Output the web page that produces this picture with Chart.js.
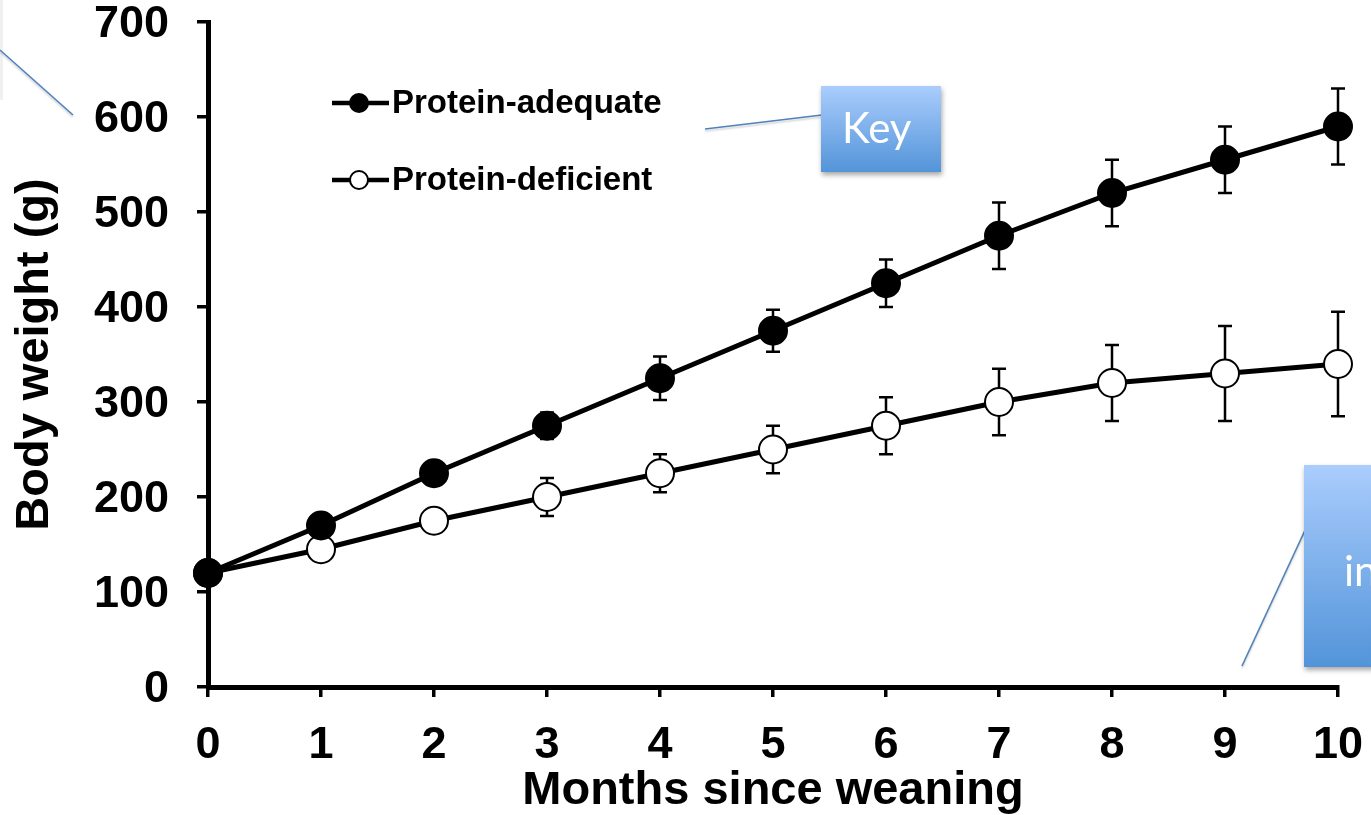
<!DOCTYPE html>
<html>
<head>
<meta charset="utf-8">
<script src="https://cdn.jsdelivr.net/npm/chart.js@4.4.1/dist/chart.umd.min.js"></script>
<style>
  html, body { margin: 0; padding: 0; background: #fff; }
  #wrap { position: relative; width: 1371px; height: 815px; }
</style>
</head>
<body>
<div id="wrap"><canvas id="growthChart" width="1371" height="815"></canvas></div>
<script>
// data
const months = [0, 1, 2, 3, 4, 5, 6, 7, 8, 9, 10];
const adequate = [120, 170, 225, 275, 325, 375, 425, 475, 520, 555, 590];
const adequateErr = [5, 8, 10, 14, 23, 22, 25, 35, 35, 35, 40];
const deficient = [120, 145, 175, 200, 225, 250, 275, 300, 320, 330, 340];
const deficientErr = [5, 5, 8, 20, 20, 25, 30, 35, 40, 50, 55];
const seriesNames = ['Protein-adequate', 'Protein-deficient'];
const xTitle = 'Months since weaning';
const yTitle = 'Body weight (g)';

const FONT = '"Liberation Sans", Arial, sans-serif';

// error bars, drawn under the markers
const errorBars = {
    id: 'errorBars',
    beforeDatasetsDraw(chart) {
        const ctx = chart.ctx;
        const xs = chart.scales.x, ys = chart.scales.y;
        const sets = [[adequate, adequateErr], [deficient, deficientErr]];
        ctx.save();
        ctx.strokeStyle = '#000';
        ctx.lineWidth = 2.5;
        sets.forEach(([vals, errs]) => {
            vals.forEach((v, i) => {
                const x = xs.getPixelForValue(months[i]);
                const yTop = ys.getPixelForValue(v + errs[i]);
                const yBot = ys.getPixelForValue(v - errs[i]);
                ctx.beginPath();
                ctx.moveTo(x, yTop); ctx.lineTo(x, yBot);
                ctx.moveTo(x - 7, yTop); ctx.lineTo(x + 7, yTop);
                ctx.moveTo(x - 7, yBot); ctx.lineTo(x + 7, yBot);
                ctx.stroke();
            });
        });
        ctx.restore();
    }
};

// the key in the upper left of the plot
const keyBox = {
    id: 'keyBox',
    afterDraw(chart) {
        const ctx = chart.ctx;
        ctx.save();
        const rows = [{ y: 103, fill: '#000' }, { y: 180, fill: '#fff' }];
        rows.forEach((r, i) => {
            ctx.strokeStyle = '#000';
            ctx.lineWidth = 4.5;
            ctx.beginPath();
            ctx.moveTo(332, r.y); ctx.lineTo(389, r.y);
            ctx.stroke();
            ctx.beginPath();
            ctx.arc(359, r.y, 9, 0, Math.PI * 2);
            ctx.fillStyle = r.fill;
            ctx.fill();
            ctx.lineWidth = 2;
            ctx.stroke();
            ctx.fillStyle = '#000';
            ctx.font = 'bold 33px ' + FONT;
            ctx.textBaseline = 'middle';
            ctx.fillText(seriesNames[i], 392, r.y + 1);
        });
        ctx.restore();
    }
};

// callout boxes pasted over the slide
const callouts = {
    id: 'callouts',
    afterDraw(chart) {
        const ctx = chart.ctx;
        ctx.save();
        function box(x, y, w, h, text, tx, ty) {
            ctx.save();
            ctx.shadowColor = 'rgba(0,0,0,0.35)';
            ctx.shadowBlur = 5;
            ctx.shadowOffsetX = 1;
            ctx.shadowOffsetY = 3;
            const g = ctx.createLinearGradient(0, y, 0, y + h);
            g.addColorStop(0, '#aacdfd');
            g.addColorStop(1, '#5394d9');
            ctx.fillStyle = g;
            ctx.fillRect(x, y, w, h);
            ctx.restore();
            ctx.fillStyle = '#fff';
            ctx.font = '42px Lato, "Open Sans", sans-serif';
            ctx.textBaseline = 'alphabetic';
            ctx.fillText(text, tx, ty);
        }
        function line(x1, y1, x2, y2) {
            ctx.save();
            ctx.strokeStyle = '#4f81bd';
            ctx.lineWidth = 1.6;
            ctx.shadowColor = 'rgba(0,0,0,0.2)';
            ctx.shadowBlur = 2;
            ctx.shadowOffsetY = 2;
            ctx.beginPath();
            ctx.moveTo(x1, y1); ctx.lineTo(x2, y2);
            ctx.stroke();
            ctx.restore();
        }
        // faint edge of a box off the left side
        ctx.fillStyle = 'rgba(0,0,0,0.06)';
        ctx.fillRect(0, 0, 3, 100);
        line(0, 50, 73, 115);
        line(705, 129, 822, 115);
        box(821, 86, 120, 86, 'Key', 842, 143);
        line(1242, 666, 1307, 526);
        box(1304, 465, 80, 202, 'in', 1344, 586);
        ctx.restore();
    }
};

const ctx = document.getElementById('growthChart').getContext('2d');
new Chart(ctx, {
    type: 'line',
    data: {
        datasets: [
            {
                label: seriesNames[0],
                data: months.map((m, i) => ({ x: m, y: adequate[i] })),
                borderColor: '#000',
                borderWidth: 5,
                pointRadius: 14,
                pointBackgroundColor: '#000',
                pointBorderColor: '#000',
                pointBorderWidth: 2,
                tension: 0,
                clip: false,
                order: 0
            },
            {
                label: seriesNames[1],
                data: months.map((m, i) => ({ x: m, y: deficient[i] })),
                borderColor: '#000',
                borderWidth: 5,
                pointRadius: 14,
                pointBackgroundColor: '#fff',
                pointBorderColor: '#000',
                pointBorderWidth: 2,
                tension: 0,
                clip: false,
                order: 1
            }
        ]
    },
    options: {
        responsive: false,
        animation: false,
        events: [],
        layout: { padding: { top: 22, right: 33, left: 0, bottom: 0 } },
        plugins: { legend: { display: false }, tooltip: { enabled: false } },
        scales: {
            x: {
                type: 'linear',
                min: 0, max: 10,
                afterFit(s) { s.height = 128; s.paddingLeft = 0; s.paddingRight = 0; },
                ticks: {
                    stepSize: 1,
                    color: '#000',
                    padding: 22,
                    font: { family: FONT, size: 45, weight: 'bold' },
                    maxRotation: 0
                },
                grid: { drawOnChartArea: false, drawTicks: true, tickLength: 10, lineWidth: 3.5, color: '#000' },
                border: { display: true, width: 5, color: '#000' },
                title: {
                    display: true,
                    text: xTitle,
                    color: '#000',
                    font: { family: FONT, size: 47, weight: 'bold', lineHeight: 1 },
                    padding: { top: 0, bottom: 0 }
                }
            },
            y: {
                min: 0, max: 700,
                afterFit(s) { s.width = 208; s.paddingTop = 0; s.paddingBottom = 0; },
                ticks: {
                    stepSize: 100,
                    color: '#000',
                    padding: 28,
                    labelOffset: 3,
                    font: { family: FONT, size: 45, weight: 'bold' }
                },
                grid: { drawOnChartArea: false, drawTicks: true, tickLength: 11, lineWidth: 3.5, color: '#000' },
                border: { display: true, width: 5, color: '#000' },
                title: {
                    display: true,
                    text: yTitle,
                    color: '#000',
                    font: { family: FONT, size: 47, weight: 'bold', lineHeight: 1.2 },
                    padding: { top: 7, bottom: 0 }
                }
            }
        }
    },
    plugins: [errorBars, keyBox, callouts]
});
</script>
</body>
</html>
